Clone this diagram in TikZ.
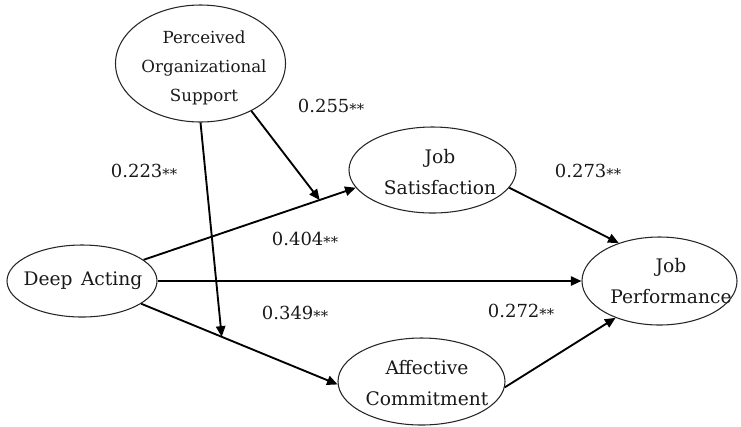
\documentclass[tikz,border=0pt]{standalone}
\usepackage{fontspec}
\setmainfont{DejaVu Serif}
\usetikzlibrary{arrows.meta,shapes.geometric}
% significance marks, set smaller than the digits and centred on them
\newcommand\sigstars{{\fontsize{11}{11}\selectfont\raisebox{-1.6pt}{**}}}
\begin{document}
\begin{tikzpicture}[x=0.75pt,y=-0.75pt,
  construct/.style={draw=black!85, line width=0.8pt, ellipse, inner sep=0pt},
  caption/.style={align=center, font=\fontsize{14}{23}\selectfont, text=black!90, inner sep=0pt},
  effect/.style={line width=1.4pt, -{Triangle[length=8pt,width=7pt]}},
  coef/.style={font=\fontsize{13.5}{16}\selectfont, text=black!90, inner sep=0pt}]
\useasboundingbox (0,0) rectangle (741,426);

% constructs
\node[construct, minimum width=127.5pt, minimum height=87.75pt] (pos) at (200.5,63.5) {};
\node[construct, minimum width=112.5pt, minimum height=54pt]    (da)  at (82,281) {};
\node[construct, minimum width=125.25pt, minimum height=64.5pt] (js)  at (432.5,170) {};
\node[construct, minimum width=125.25pt, minimum height=65.25pt] (ac) at (421.5,381.5) {};
\node[construct, minimum width=116.25pt, minimum height=66pt]   (jp)  at (659.5,281) {};

% construct names
\node[caption, font=\fontsize{12.5}{22}\selectfont] (pos-text) at (204,68) {Perceived\\Organizational\\Support};
\node[caption] (da-text) at (83,281) {Deep\hspace{0.45em}Acting};
\node[caption] (js-text) at (440,172) {Job\\Satisfaction};
\node[caption] (ac-text) at (427,383) {Affective\\Commitment};
\node[caption] (jp-text) at (671,281) {Job\\Performance};

% structural paths
\draw[effect] (da.19) -- coordinate[pos=0.83] (da-js) (js.193);
\draw[effect] (da.east) -- (jp.west);
\draw[effect] (da.339) -- coordinate[pos=0.41] (da-ac) (ac.182);
\draw[effect] (js.347) -- (jp.137);
\draw[effect] (ac.356) -- (jp.220);

% moderating paths
\draw[effect] (pos.south) -- (da-ac);
\draw[effect] (pos.317) -- (da-js);

% path coefficients
\node[coef] (c-pos-js) at (331,107) {0.255\sigstars};
\node[coef] (c-pos-ac) at (144,172) {0.223\sigstars};
\node[coef] (c-da-js)  at (305,240) {0.404\sigstars};
\node[coef] (c-da-ac)  at (295,314) {0.349\sigstars};
\node[coef] (c-js-jp)  at (588,172) {0.273\sigstars};
\node[coef] (c-ac-jp)  at (521,312) {0.272\sigstars};
\end{tikzpicture}
\end{document}
